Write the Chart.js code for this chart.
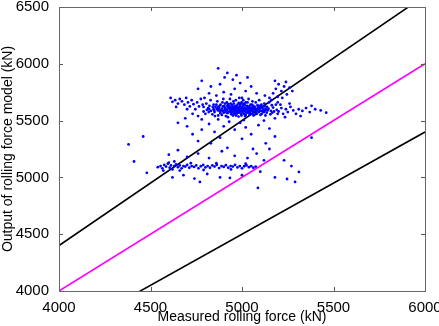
<!DOCTYPE html>
<html>
<head>
<meta charset="utf-8">
<script src="https://cdn.jsdelivr.net/npm/chart.js@4.4.1/dist/chart.umd.min.js"></script>
<style>
  body { margin: 0; background: #fff; }
  #wrap { width: 439px; height: 326px; position: relative; }
</style>
</head>
<body>
<div id="wrap"><canvas id="myChart"></canvas></div>
<script>
// tick labels
const xTicks = [4000, 4500, 5000, 5500, 6000];
const yTicks = [4000, 4500, 5000, 5500, 6000, 6500];

// reference lines (measured vs model): model = 1.1x, 1.0x, 0.9x
const upperLine = [[4000, 4400], [6000, 6600]];
const equalLine = [[4000, 4000], [6000, 6000]];
const lowerLine = [[4000, 3600], [6000, 5400]];

// scatter points [measured, model]
const mainCore = [
  [4800,5560],[4815,5610],[4830,5585],[4845,5640],[4850,5575],[4862,5605],[4870,5545],[4878,5630],[4885,5590],[4893,5660],
  [4900,5570],[4905,5615],[4912,5540],[4918,5595],[4925,5645],[4930,5580],[4936,5620],[4942,5555],[4948,5600],[4953,5670],
  [4958,5585],[4962,5630],[4967,5545],[4972,5610],[4977,5575],[4982,5655],[4986,5595],[4990,5625],[4995,5560],[5000,5605],
  [5005,5640],[5010,5580],[5015,5615],[5020,5550],[5025,5600],[5030,5660],[5035,5585],[5040,5625],[5045,5565],[5050,5605],
  [5055,5640],[5060,5580],[5066,5615],[5072,5555],[5078,5600],[5085,5635],[5092,5575],[5100,5610],[5108,5560],[5116,5595],
  [5125,5625],[5135,5570],[5145,5605],[5158,5585],[5170,5615],
  [4808,5595],[4822,5630],[4838,5555],[4855,5620],[4868,5590],[4882,5565],[4896,5625],[4908,5650],[4921,5565],[4933,5605],
  [4945,5635],[4956,5560],[4965,5595],[4975,5640],[4984,5570],[4993,5610],[5002,5575],[5012,5650],[5022,5590],[5032,5570],
  [5042,5600],[5052,5560],[5062,5630],[5074,5590],[5088,5605],[5104,5585],[5120,5575],[5140,5590],[5165,5570],[5190,5595],
  [4890,5605],[4915,5585],[4940,5590],[4960,5610],[4980,5600],[5000,5590],[5018,5600],[5038,5610],[5058,5600],[5080,5585],
  [4950,5620],[4970,5580],[4990,5640],[5010,5560],[5028,5630],[4925,5610],[4905,5595],[4875,5610],[4860,5640],[4845,5600],
  [5048,5585],[5070,5620],[5095,5595],[5112,5610],[5130,5600],
  [4790,5620],[4805,5650],[4818,5575],[4828,5680],[4840,5620],[4852,5540],[4865,5670],[4872,5600],[4883,5640],[4890,5550],
  [4898,5690],[4903,5630],[4910,5575],[4917,5660],[4923,5530],[4928,5625],[4934,5690],[4939,5570],[4944,5610],[4951,5545],
  [4955,5650],[4961,5590],[4966,5680],[4971,5560],[4976,5620],[4981,5535],[4985,5700],[4988,5580],[4993,5650],[4997,5545],
  [5003,5620],[5007,5680],[5012,5600],[5017,5540],[5021,5660],[5026,5575],[5031,5615],[5036,5690],[5041,5550],[5046,5640],
  [5051,5590],[5057,5670],[5063,5545],[5068,5600],[5075,5660],[5081,5560],[5087,5620],[5094,5680],[5101,5550],[5106,5640],
  [5114,5580],[5122,5650],[5128,5545],[5137,5620],[5148,5660],[5155,5555],[5163,5635],[5175,5580],[5185,5640],[5195,5560],
  [4820,5600],[4848,5590],[4870,5620],[4895,5585],[4920,5630],[4945,5580],[4968,5625],[4992,5585],[5015,5635],[5038,5575],
  [5060,5620],[5083,5600],[5105,5625],[5127,5590],[4880,5580],[4910,5610],[4955,5600],[4985,5615],[5005,5595],[5030,5605],
  [5052,5615],[5077,5570],[5098,5630],[5118,5600],[4938,5650],[4962,5570],[4998,5660],[5024,5570],[4948,5575],[4978,5590]
];
const mainWings = [
  [4620,5665],[4635,5680],[4650,5650],[4660,5690],[4672,5670],[4685,5640],[4695,5700],[4705,5660],[4715,5625],[4725,5680],
  [4735,5645],[4745,5600],[4755,5660],[4765,5625],[4775,5690],[4785,5640],[4790,5580],[4795,5700],[4700,5600],[4730,5560],
  [4760,5540],[4780,5510],[4640,5620],[4610,5700],
  [5200,5580],[5215,5610],[5225,5560],[5240,5600],[5250,5575],[5265,5620],[5280,5590],[5295,5560],[5310,5600],[5330,5585],
  [5350,5610],[5370,5575],[5400,5600],[5430,5590],[5460,5570],[5210,5640],[5235,5530],[5260,5650],[5180,5520],[5195,5660],
  [5320,5540],[5380,5630],
  [5150,5700],[5170,5740],[5185,5780],[5200,5820],[5215,5760],[5230,5800],[5245,5730],[5180,5850],[5220,5700],[5160,5680],
  [5260,5790],[5195,5710],[5240,5840],[5125,5720],[5275,5760],
  [4870,5960],[4920,5920],[4905,5880],[4950,5860],[4880,5820],[4990,5830],[4830,5800],[4960,5780],[5020,5760],[4900,5750],
  [5050,5800],[4860,5720],[4940,5730],[5000,5700],[5080,5740],[4820,5740],[4970,5900],[5030,5880],[4760,5780],[4780,5850],
  [4650,5480],[4700,5450],[4730,5380],[4780,5420],[4820,5470],[4850,5400],[4880,5350],[4900,5450],[4930,5490],[4960,5420],
  [4990,5480],[5020,5440],[5050,5380],[5090,5460],[5120,5500],[5150,5430],[4760,5320],[4830,5300],[4920,5260],[5000,5340],
  [5060,5250],[5130,5300],[5180,5360],[4690,5520],[4870,5510],[5010,5505]
];
const lowerBand = [
  [4540,5090],[4555,5100],[4565,5080],[4575,5110],[4585,5095],[4595,5120],[4605,5085],[4612,5105],[4620,5070],[4630,5100],
  [4640,5115],[4650,5090],[4660,5105],[4670,5080],[4680,5100],[4690,5095],[4700,5110],[4712,5085],[4725,5100],[4738,5092],
  [4750,5105],[4762,5080],[4775,5098],[4788,5110],[4800,5088],[4812,5100],[4825,5085],[4838,5105],[4850,5095],[4862,5110],
  [4875,5082],[4888,5100],[4900,5092],[4912,5108],[4925,5085],[4938,5100],[4950,5095],[4962,5110],[4975,5088],[4988,5100],
  [5000,5080],[5012,5098],[5025,5105],[5038,5090],[5050,5100],[5062,5085],[5075,5095],[4600,5130],[4660,5060],[4720,5125],
  [4790,5065],[4860,5125],[4940,5070],[5020,5120],[4570,5060],[4630,5140],
  [4600,5200],[4650,5240],[4700,5180],[4760,5210],[4820,5170],[4890,5230],[4960,5190],[5030,5170],[5080,5210],[4680,5020],
  [4740,4990],[4810,5030],[4880,5000],[4934,4995],[5000,5020],[5087,4907],[4770,4960],[4620,5000],[5100,5050],[5120,5150]
];
const outliers = [
  [4380,5290],[4460,5360],[4480,5040],[4410,5140],
  [5246,4986],[5311,5048],[5290,4960],[5230,5150],[5270,5100],[5180,5000],[5380,5350],[5150,5250]
];

const toXY = arr => arr.map(p => ({x: p[0], y: p[1]}));
const allPoints = [].concat(mainCore, mainWings, lowerBand, outliers);
const fontFamily = '"Liberation Sans", Arial, sans-serif';

// matlab-like inward ticks on all four sides
const innerTicks = {
  id: 'innerTicks',
  afterDraw(chart) {
    const c = chart.ctx, a = chart.chartArea;
    const xs = chart.scales.x, ys = chart.scales.y;
    c.save();
    c.strokeStyle = '#555';
    c.lineWidth = 1;
    c.beginPath();
    xTicks.forEach(v => {
      const px = Math.round(xs.getPixelForValue(v)) + 0.5;
      c.moveTo(px, a.bottom); c.lineTo(px, a.bottom - 4);
      c.moveTo(px, a.top); c.lineTo(px, a.top + 4);
    });
    yTicks.forEach(v => {
      const py = Math.round(ys.getPixelForValue(v)) + 0.5;
      c.moveTo(a.left, py); c.lineTo(a.left + 4, py);
      c.moveTo(a.right, py); c.lineTo(a.right - 4, py);
    });
    c.stroke();
    c.strokeStyle = '#666';
    c.strokeRect(Math.round(a.left) + 0.5, Math.round(a.top) + 0.5, Math.round(a.right - a.left), Math.round(a.bottom - a.top));
    c.restore();
  }
};

const ctx = document.getElementById('myChart');
const myChart = new Chart(ctx, {
  type: 'scatter',
  data: {
    datasets: [
      {
        data: toXY(allPoints),
        backgroundColor: '#0000ff',
        borderWidth: 0,
        pointRadius: 1.4
      },
      {
        type: 'line',
        data: toXY(upperLine),
        borderColor: '#000',
        borderWidth: 1.6,
        pointRadius: 0
      },
      {
        type: 'line',
        data: toXY(equalLine),
        borderColor: '#ff00ff',
        borderWidth: 1.6,
        pointRadius: 0
      },
      {
        type: 'line',
        data: toXY(lowerLine),
        borderColor: '#000',
        borderWidth: 1.6,
        pointRadius: 0
      }
    ]
  },
  options: {
    responsive: true,
    maintainAspectRatio: false,
    animation: false,
    layout: { padding: { top: 7, right: 14, left: 0, bottom: 0 } },
    scales: {
      x: {
        type: 'linear',
        min: 4000, max: 6000,
        afterBuildTicks: s => { s.ticks = xTicks.map(v => ({value: v})); },
        afterFit: s => { s.height = 35; s.paddingLeft = 0; s.paddingRight = 0; },
        grid: { display: false },
        border: { display: false },
        ticks: {
          color: '#000', padding: 0, maxRotation: 0,
          callback: v => String(v),
          font: { family: fontFamily, size: 15 }
        },
        title: {
          display: true, text: 'Measured rolling force (kN)', color: '#000', padding: 0,
          font: { family: fontFamily, size: 14 }
        }
      },
      y: {
        type: 'linear',
        min: 4000, max: 6500,
        afterBuildTicks: s => { s.ticks = yTicks.map(v => ({value: v})); },
        afterFit: s => { s.width = 59; s.paddingTop = 0; s.paddingBottom = 0; },
        grid: { display: false },
        border: { display: false },
        ticks: {
          color: '#000', padding: 2,
          callback: v => String(v),
          font: { family: fontFamily, size: 15 }
        },
        title: {
          display: true, text: 'Output of rolling force model (kN)', color: '#000', padding: 0,
          font: { family: fontFamily, size: 14 }
        }
      }
    },
    plugins: {
      legend: { display: false },
      tooltip: { enabled: false }
    }
  },
  plugins: [innerTicks]
});
</script>
</body>
</html>
